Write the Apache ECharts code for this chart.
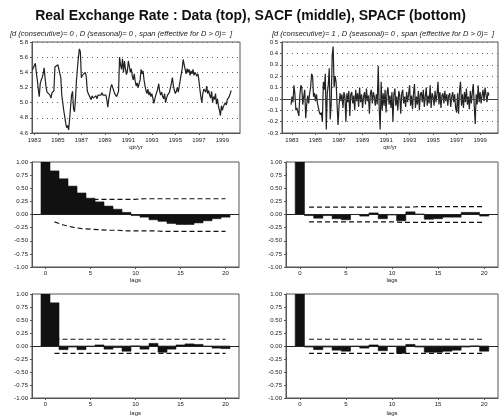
<!DOCTYPE html>
<html><head><meta charset="utf-8">
<script src="https://cdn.jsdelivr.net/npm/echarts@6/dist/echarts.min.js"></script>
<style>html,body{margin:0;padding:0;background:#fff}#c{width:501px;height:417px}</style>
</head><body><div id="c"></div><script>
// ---- data ----
// Monthly real exchange rate, first month Nov 1982
const levelStartYear = 1982, levelStartMonth = 11;
const levels = [
  5.43, 5.41,
  5.44, 5.52, 5.40, 5.30, 5.18, 5.08, 5.25, 5.30, 5.33, 5.38, 5.46, 5.32,
  5.20, 5.14, 5.12, 5.16, 5.10, 5.06, 5.13, 5.12, 5.16, 5.47, 5.49, 5.46,
  5.50, 5.48, 5.51, 5.33, 5.10, 5.00, 4.90, 4.82, 4.73, 4.67, 4.70, 4.64,
  4.78, 4.95, 5.10, 5.15, 4.92, 4.88, 5.05, 5.29, 5.45, 5.60, 5.71, 5.67,
  5.33, 5.36, 5.34, 5.38, 5.40, 5.35, 5.16, 5.12, 5.10, 5.12, 5.04, 5.09,
  5.06, 5.08, 5.06, 5.09, 5.05, 5.10, 5.08, 5.12, 5.10, 5.13, 5.10, 5.12,
  5.12, 5.10, 5.04, 4.94, 5.05, 5.12, 5.20, 5.24, 5.26, 5.22, 5.12, 5.10,
  5.08, 5.10, 5.15, 5.60, 5.50, 5.44, 5.58, 5.40, 5.55, 5.45, 5.37, 5.42,
  5.55, 5.48, 5.40, 5.45, 5.35, 5.30, 5.38, 5.28, 5.22, 5.26, 5.20, 5.18,
  5.30, 5.44, 5.38, 5.42, 5.30, 5.22, 5.16, 5.12, 5.18, 5.10, 5.14, 5.08,
  5.12, 5.06, 4.99, 5.05, 5.10, 5.08, 5.18, 5.25, 5.15, 5.10, 5.14, 5.08,
  5.05, 5.12, 5.00, 5.06, 5.10, 5.08, 5.14, 5.20, 5.26, 5.33, 5.22, 5.16,
  5.12, 5.15, 5.20, 5.14, 5.22, 5.30, 5.38, 5.45, 5.57, 5.50, 5.44, 5.38,
  5.45, 5.40, 5.44, 5.36, 5.42, 5.38, 5.44, 5.36, 5.40, 5.42, 5.35, 5.38,
  5.30, 5.18, 5.08, 5.00, 5.12, 5.18, 5.20, 5.14, 5.22, 5.12, 5.16, 5.10,
  5.06, 5.15, 5.00, 5.08, 5.04, 5.12, 4.98, 5.05, 4.95, 4.90, 4.83, 4.96,
  4.90, 4.95, 4.93, 5.00, 4.97, 5.04, 5.02, 5.08, 5.12, 5.16
];
// Monthly first differences, first month Dec 1982
const diffStartYear = 1982, diffStartMonth = 12;
const diffs = [
  -0.05, 0.02, -0.03, 0.12, 0.04, -0.10, -0.08, -0.09, -0.15, 0.03,
  0.12, 0.10, -0.05, 0.02, 0.08, -0.17, -0.05, 0.03, -0.04, 0.05,
  0.10, 0.22, 0.20, 0.02, 0.05, -0.02, 0.04, -0.04, -0.08, -0.12,
  -0.14, -0.12, -0.20, 0.15, 0.08, 0.22, -0.27, 0.05, 0.12, 0.27,
  -0.18, -0.05, 0.38, 0.46, 0.10, 0.20, 0.15, -0.05, -0.23, -0.06,
  0.05, -0.02, 0.04, -0.08, 0.06, 0.02, -0.20, 0.05, -0.03, 0.07,
  -0.15, 0.04, 0.06, -0.04, 0.03, -0.10, 0.08, -0.02, 0.05, -0.07,
  0.10, -0.03, 0.04, -0.08, 0.02, 0.06, -0.05, 0.09, -0.02, 0.03,
  -0.13, 0.05, 0.08, -0.04, 0.06, 0.02, -0.06, 0.04, -0.05, 0.29,
  -0.08, -0.27, 0.15, -0.10, 0.05, -0.06, 0.08, -0.12, 0.06, 0.10,
  -0.05, 0.03, -0.08, 0.06, -0.20, 0.04, 0.09, -0.06, 0.02, -0.10,
  0.07, 0.03, -0.13, 0.05, 0.08, -0.04, 0.02, -0.07, 0.06, -0.03,
  0.04, 0.12, -0.06, 0.03, -0.09, 0.05, 0.13, -0.08, 0.02, -0.05,
  0.07, -0.10, 0.04, 0.06, -0.03, 0.08, -0.07, 0.02, 0.10, -0.06,
  0.03, -0.04, 0.12, -0.08, 0.05, 0.02, -0.06, 0.07, -0.03, 0.04,
  0.15, -0.05, 0.06, -0.08, 0.03, 0.05, -0.04, 0.07, -0.02, 0.04,
  -0.06, 0.03, 0.05, -0.07, 0.02, 0.06, -0.03, 0.04, -0.08, -0.12,
  0.05, -0.13, 0.08, 0.15, -0.06, 0.04, -0.08, 0.06, -0.03, 0.09,
  -0.05, 0.02, -0.09, 0.07, -0.04, 0.05, 0.13, -0.06, -0.22, 0.04,
  -0.05, 0.12, -0.03, 0.06, -0.04, 0.03, 0.08, -0.02, 0.10, 0.04,
  -0.03, 0.06, 0.03
];
const yearTicks = [1983, 1985, 1987, 1989, 1991, 1993, 1995, 1997, 1999];
const lagTicks = [0, 5, 10, 15, 20];
const lags = [0,1,2,3,4,5,6,7,8,9,10,11,12,13,14,15,16,17,18,19,20];
const bandLags = [1,2,3,4,5,6,7,8,9,10,11,12,13,14,15,16,17,18,19,20];

const sacfLevel = [1.00, 0.83, 0.68, 0.54, 0.41, 0.31, 0.24, 0.16, 0.10, 0.04, -0.02, -0.05, -0.10, -0.13, -0.17, -0.19, -0.19, -0.16, -0.12, -0.08, -0.05];
const sacfLevelUpper = [0.14, 0.21, 0.25, 0.27, 0.28, 0.29, 0.29, 0.29, 0.29, 0.29, 0.30, 0.30, 0.30, 0.30, 0.30, 0.30, 0.30, 0.30, 0.30, 0.30];
const sacfLevelLower = [-0.14, -0.20, -0.24, -0.27, -0.28, -0.29, -0.30, -0.30, -0.31, -0.31, -0.31, -0.31, -0.32, -0.32, -0.32, -0.32, -0.32, -0.32, -0.32, -0.32];

const sacfDiff = [1.00, -0.02, -0.07, -0.02, -0.08, -0.10, 0.00, -0.03, 0.03, -0.08, -0.01, -0.12, 0.05, 0.01, -0.09, -0.08, -0.05, -0.05, 0.04, 0.04, -0.03];
const sacfDiffUpper = [0.14, 0.14, 0.14, 0.14, 0.14, 0.14, 0.14, 0.14, 0.14, 0.14, 0.14, 0.14, 0.15, 0.15, 0.15, 0.15, 0.15, 0.15, 0.15, 0.15];
const sacfDiffLower = [-0.14, -0.14, -0.14, -0.14, -0.14, -0.14, -0.14, -0.14, -0.14, -0.14, -0.15, -0.15, -0.15, -0.15, -0.15, -0.15, -0.15, -0.15, -0.15, -0.15];

const spacfLevel = [1.00, 0.83, -0.07, -0.02, -0.07, -0.01, 0.02, -0.06, -0.03, -0.10, 0.00, -0.06, 0.05, -0.12, -0.06, 0.02, 0.04, 0.03, -0.01, -0.04, -0.05];
const spacfLevelUpper = [0.13, 0.13, 0.13, 0.13, 0.13, 0.13, 0.13, 0.13, 0.13, 0.13, 0.13, 0.13, 0.13, 0.13, 0.13, 0.13, 0.13, 0.13, 0.13, 0.13];
const spacfLevelLower = [-0.14, -0.14, -0.14, -0.14, -0.14, -0.14, -0.14, -0.14, -0.14, -0.14, -0.14, -0.14, -0.14, -0.14, -0.14, -0.14, -0.14, -0.14, -0.14, -0.14];

const spacfDiff = [1.00, -0.02, -0.07, -0.02, -0.08, -0.10, -0.01, -0.04, 0.02, -0.09, -0.01, -0.14, 0.03, -0.02, -0.12, -0.12, -0.10, -0.08, -0.02, 0.00, -0.10];
const spacfDiffUpper = [0.13, 0.13, 0.13, 0.13, 0.13, 0.13, 0.13, 0.13, 0.13, 0.13, 0.13, 0.13, 0.13, 0.13, 0.13, 0.13, 0.13, 0.13, 0.13, 0.13];
const spacfDiffLower = [-0.14, -0.14, -0.14, -0.14, -0.14, -0.14, -0.14, -0.14, -0.14, -0.14, -0.14, -0.14, -0.14, -0.14, -0.14, -0.14, -0.14, -0.14, -0.14, -0.14];

// ---- chart ----
const F = '"Liberation Sans", Arial, Helvetica, sans-serif';
const ink = '#1a1a1a';
function monthly(startYear, startMonth, vals) {
  return vals.map((v, i) => [startYear + (startMonth - 1 + i) / 12, v]);
}
const grids = [
  {left: 32, top: 42, width: 208, height: 91},
  {left: 282, top: 42, width: 216, height: 91},
  {left: 32, top: 162, width: 207, height: 105},
  {left: 286, top: 162, width: 212, height: 105},
  {left: 32, top: 294, width: 207, height: 104},
  {left: 286, top: 294, width: 212, height: 104}
].map(g => Object.assign(g, {show: true, borderColor: '#555', borderWidth: 1, backgroundColor: 'transparent'}));

const lbl = {fontSize: 6, color: ink, fontFamily: F};
function yearAxis(gi, min, max) {
  return {type: 'value', gridIndex: gi, min: min, max: max,
    name: 'qtr/yr', nameLocation: 'middle', nameGap: 11, nameTextStyle: lbl,
    axisLine: {onZero: false, lineStyle: {color: '#555', width: 1}},
    axisTick: {customValues: yearTicks, length: 2, lineStyle: {color: '#555'}},
    axisLabel: Object.assign({customValues: yearTicks, margin: 4, formatter: v => String(Math.round(v))}, lbl),
    splitLine: {show: false}};
}
function lagAxis(gi, gap) {
  return {type: 'value', gridIndex: gi, min: -1.5, max: 21.5,
    name: 'lags', nameLocation: 'middle', nameGap: gap, nameTextStyle: lbl,
    axisLine: {onZero: false, lineStyle: {color: '#555', width: 1}},
    axisTick: {customValues: lagTicks, length: 2, lineStyle: {color: '#555'}},
    axisLabel: Object.assign({customValues: lagTicks, margin: 3, formatter: v => String(Math.round(v))}, lbl),
    splitLine: {show: false}};
}
function acfYAxis(gi) {
  return {type: 'value', gridIndex: gi, min: -1, max: 1, interval: 0.25,
    axisLine: {onZero: false, lineStyle: {color: '#555'}},
    axisTick: {length: 2, lineStyle: {color: '#555'}},
    axisLabel: Object.assign({margin: 4, formatter: v => (Math.abs(v) < 1e-9 ? '0.00' : v.toFixed(2))}, lbl),
    splitLine: {show: false}};
}
const dotted = {show: true, lineStyle: {color: '#666', width: 1, type: [1, 4]}};
const zeroMark = {silent: true, symbol: ['none', 'none'], label: {show: false},
  lineStyle: {color: '#222', width: 1, type: 'solid'}, data: [{yAxis: 0}]};

function barRender(params, api) {
  const x = api.value(0), y = api.value(1);
  const p0 = api.coord([x - 0.5, 0]);
  const p1 = api.coord([x + 0.5, y]);
  return {type: 'rect',
    shape: {x: p0[0], y: Math.min(p0[1], p1[1]), width: p1[0] - p0[0], height: Math.abs(p1[1] - p0[1])},
    style: {fill: '#111', stroke: '#111', lineWidth: 0.6}};
}
function acfSeries(gi, vals, upper, lower) {
  return [
    {type: 'custom', xAxisIndex: gi, yAxisIndex: gi, renderItem: barRender, clip: true,
     data: lags.map((l, i) => [l, vals[i]]), z: 2},
    {type: 'line', xAxisIndex: gi, yAxisIndex: gi, symbol: 'none', z: 3,
     lineStyle: {color: '#111', width: 1.2, type: [5, 3]},
     data: bandLags.map((l, i) => [l, upper[i]]), markLine: zeroMark},
    {type: 'line', xAxisIndex: gi, yAxisIndex: gi, symbol: 'none', z: 3,
     lineStyle: {color: '#111', width: 1.2, type: [5, 3]},
     data: bandLags.map((l, i) => [l, lower[i]])}
  ];
}

const chart = echarts.init(document.getElementById('c'), null, {renderer: 'canvas'});
chart.setOption({
  animation: false,
  backgroundColor: '#fff',
  title: [
    {text: 'Real Exchange Rate : Data (top), SACF (middle), SPACF (bottom)', left: 'center', top: 4,
     textStyle: {fontSize: 14, fontWeight: 'bold', color: '#111', fontFamily: F}},
    {text: '[d (consecutive)= 0 , D (seasonal)= 0 , span (effective for D > 0)=  ]', left: 5, top: 25,
     textStyle: {fontSize: 7.5, fontStyle: 'italic', fontWeight: 'normal', color: ink, fontFamily: F}},
    {text: '[d (consecutive)= 1 , D (seasonal)= 0 , span (effective for D > 0)=  ]', left: 267, top: 25,
     textStyle: {fontSize: 7.5, fontStyle: 'italic', fontWeight: 'normal', color: ink, fontFamily: F}}
  ],
  grid: grids,
  xAxis: [
    yearAxis(0, 1982.8, 2000.5),
    yearAxis(1, 1982.15, 2000.52),
    lagAxis(2, 10), lagAxis(3, 10), lagAxis(4, 12), lagAxis(5, 12)
  ],
  yAxis: [
    {type: 'value', gridIndex: 0, min: 4.6, max: 5.8, interval: 0.2,
     axisLine: {onZero: false, lineStyle: {color: '#555'}},
     axisTick: {length: 2, lineStyle: {color: '#555'}},
     axisLabel: Object.assign({margin: 4, formatter: v => v.toFixed(1)}, lbl),
     splitLine: dotted},
    {type: 'value', gridIndex: 1, min: -0.3, max: 0.5, interval: 0.1,
     axisLine: {onZero: false, lineStyle: {color: '#555'}},
     axisTick: {length: 2, lineStyle: {color: '#555'}},
     axisLabel: Object.assign({margin: 4, formatter: v => (Math.abs(v) < 1e-9 ? '-0.0' : v.toFixed(1))}, lbl),
     splitLine: dotted},
    acfYAxis(2), acfYAxis(3), acfYAxis(4), acfYAxis(5)
  ],
  series: [
    {type: 'line', xAxisIndex: 0, yAxisIndex: 0, symbol: 'none', z: 3,
     lineStyle: {color: '#222', width: 1.2}, data: monthly(levelStartYear, levelStartMonth, levels)},
    {type: 'line', xAxisIndex: 1, yAxisIndex: 1, symbol: 'none', z: 3,
     lineStyle: {color: '#222', width: 1.2}, data: monthly(diffStartYear, diffStartMonth, diffs),
     markLine: {silent: true, symbol: ['none', 'none'], label: {show: false},
       lineStyle: {color: '#444', width: 1, type: 'solid'}, data: [{yAxis: 0}]}},
    ...acfSeries(2, sacfLevel, sacfLevelUpper, sacfLevelLower),
    ...acfSeries(3, sacfDiff, sacfDiffUpper, sacfDiffLower),
    ...acfSeries(4, spacfLevel, spacfLevelUpper, spacfLevelLower),
    ...acfSeries(5, spacfDiff, spacfDiffUpper, spacfDiffLower)
  ]
});
</script></body></html>
